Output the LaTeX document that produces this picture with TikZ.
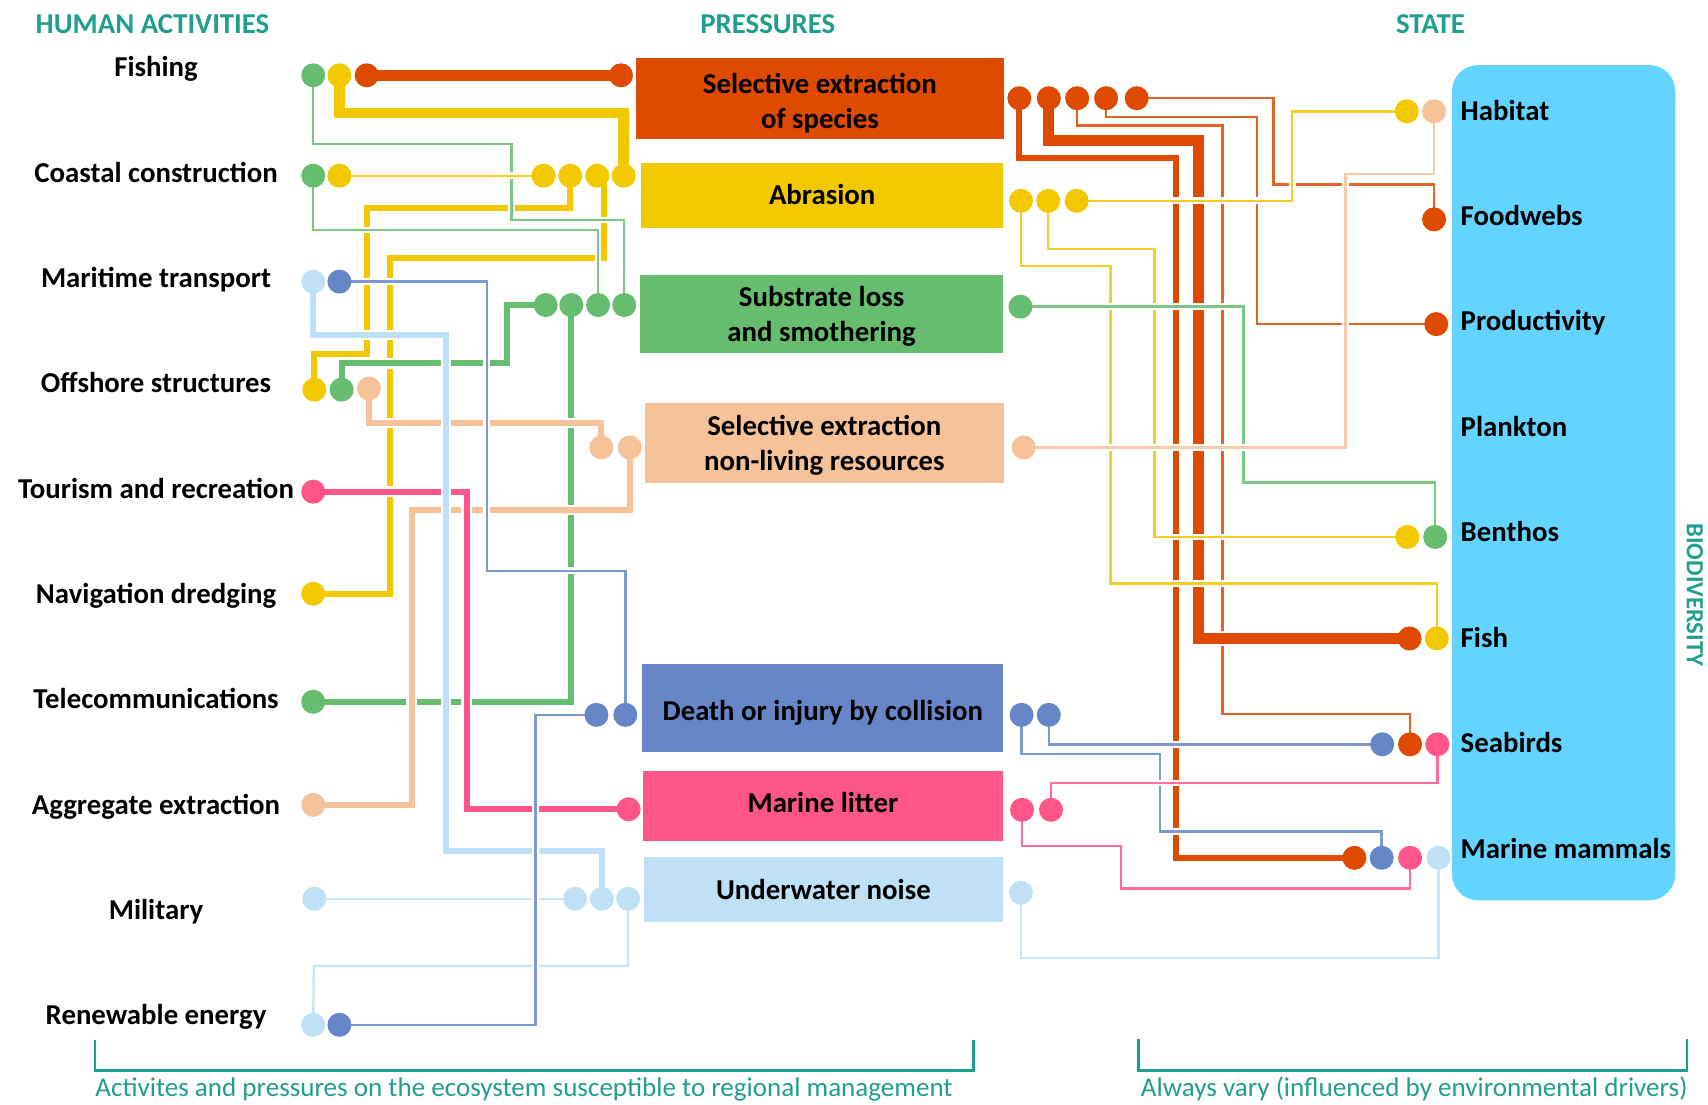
\documentclass[tikz,border=0pt]{standalone}
\usepackage{fontspec}
\setmainfont{Carlito}
\definecolor{cTeal}{RGB}{32,158,142}
\definecolor{cOr}{RGB}{222,74,0}
\definecolor{cYe}{RGB}{242,200,0}
\definecolor{cGr}{RGB}{102,189,112}
\definecolor{cPe}{RGB}{246,194,154}
\definecolor{cBl}{RGB}{103,134,200}
\definecolor{cPk}{RGB}{255,85,136}
\definecolor{cLb}{RGB}{190,225,246}
\definecolor{cSt}{RGB}{98,212,255}
\begin{document}
\begin{tikzpicture}[x=0.5pt,y=-0.5pt,line join=miter,
  lbl/.style={font=\bfseries\fontsize{13.2pt}{16pt}\selectfont, inner sep=0},
  act/.style={lbl, anchor=base},
  stl/.style={lbl, anchor=base west},
  hdr/.style={lbl, text=cTeal, anchor=base},
  foot/.style={font=\fontsize{12.4pt}{15pt}\selectfont, text=cTeal, inner sep=0, anchor=base west},
  pbox/.style={rectangle, inner sep=0},
  ptxt/.style={lbl, align=center},
  dot/.style={circle, inner sep=0, minimum size=11pt, fill=#1},
  lthick/.style={draw=#1, line width=5pt, preaction={draw=white, line width=7pt}},
  lmed/.style={draw=#1, line width=2.75pt, preaction={draw=white, line width=4.75pt}},
  lthin/.style={draw=#1!85, line width=1.1pt, preaction={draw=white, line width=3.1pt}},
  brk/.style={draw=cTeal, line width=1.1pt}
]
\useasboundingbox (0,0) rectangle (1565,1011.6);

% headers
\node[hdr] (h1) at (139.7,30.5) {HUMAN ACTIVITIES};
\node[hdr] (h2) at (703.5,30.5) {PRESSURES};
\node[hdr] (h3) at (1310.7,30.5) {STATE};

% activity labels
\node[act] (tFish) at (143,70.5) {Fishing};
\node[act] (tCoast) at (143,167) {Coastal construction};
\node[act] (tMar) at (143,263.5) {Maritime transport};
\node[act] (tOff) at (143,360) {Offshore structures};
\node[act] (tTour) at (143,456.5) {Tourism and recreation};
\node[act] (tNav) at (143,553) {Navigation dredging};
\node[act] (tTel) at (143,649.5) {Telecommunications};
\node[act] (tAgg) at (143,746) {Aggregate extraction};
\node[act] (tMil) at (143,842.5) {Military};
\node[act] (tRen) at (143,939) {Renewable energy};

% pressure boxes
\node[pbox, fill=cOr, minimum width=168.3pt, minimum height=37.1pt,
  label={[ptxt, yshift=-2pt]center:Selective extraction\\of species}] (p1) at (751.3,90.6) {};
\node[pbox, fill=cYe, minimum width=165.7pt, minimum height=29.75pt,
  label={[ptxt, yshift=0.5pt]center:Abrasion}] (p2) at (753.3,179.5) {};
\node[pbox, fill=cGr, minimum width=166.25pt, minimum height=35.5pt,
  label={[ptxt, yshift=-1pt]center:Substrate loss\\and smothering}] (p3) at (752.8,287.5) {};
\node[pbox, fill=cPe, minimum width=164.25pt, minimum height=36.9pt,
  label={[ptxt, yshift=-1pt]center:Selective extraction\\non-living resources}] (p4) at (755.3,405.9) {};
\node[pbox, fill=cBl, minimum width=165.35pt, minimum height=40pt,
  label={[ptxt, yshift=-2pt]center:Death or injury by collision}] (p5) at (753.9,648.7) {};
\node[pbox, fill=cPk, minimum width=165pt, minimum height=32.5pt,
  label={[ptxt, yshift=1.5pt]center:Marine litter}] (p6) at (754,738.5) {};
\node[pbox, fill=cLb, minimum width=164.5pt, minimum height=29.5pt,
  label={[ptxt]center:Underwater noise}] (p7) at (754.5,815) {};

% state box
\node[rectangle, rounded corners=12pt, fill=cSt, inner sep=0, minimum width=102.3pt, minimum height=382.7pt] (state) at (1432.7,442.3) {};
\node[stl] (sHab) at (1338,110) {Habitat};
\node[stl] (sFood) at (1338,206.6) {Foodwebs};
\node[stl] (sProd) at (1338,303.2) {Productivity};
\node[stl] (sPlank) at (1338,399.8) {Plankton};
\node[stl] (sBen) at (1338,496.4) {Benthos};
\node[stl] (sFish) at (1338,593) {Fish};
\node[stl] (sSea) at (1338,689.6) {Seabirds};
\node[stl] (sMam) at (1338,786.2) {Marine mammals};
\node[lbl, text=cTeal, font=\bfseries\fontsize{11.3pt}{13pt}\selectfont, rotate=-90] (bio) at (1553,545) {BIODIVERSITY};

% dot coordinates (dots drawn last)
\path
 (287,69) coordinate (fG) (311,69) coordinate (fY) (336,69) coordinate (fO)
 (287,161) coordinate (cG) (311,161) coordinate (cY)
 (287,258) coordinate (mL) (311,258) coordinate (mB)
 (288,357) coordinate (oY) (313,357) coordinate (oG) (338,356) coordinate (oP)
 (287,450.5) coordinate (tP)
 (287,544) coordinate (nY)
 (287,643) coordinate (teG)
 (287,737.5) coordinate (aP)
 (288,823.5) coordinate (miL)
 (287,939) coordinate (rL) (311,939) coordinate (rB)
 (569,69) coordinate (s1L)
 (498,161) coordinate (a1) (522.5,161) coordinate (a2) (547.3,161) coordinate (a3) (571.5,161) coordinate (a4)
 (500,279.5) coordinate (u1) (523.5,279.5) coordinate (u2) (548,279.5) coordinate (u3) (572,279.5) coordinate (u4)
 (551,410) coordinate (n1) (577,410) coordinate (n2)
 (546.5,655) coordinate (d1) (573,655) coordinate (d2)
 (576,741.5) coordinate (l1)
 (527,823.5) coordinate (z1) (551.5,823.5) coordinate (z2) (575.5,823.5) coordinate (z3)
 (934,90) coordinate (sr1) (961,90) coordinate (sr2) (987,90) coordinate (sr3) (1013.5,90) coordinate (sr4) (1041.5,90) coordinate (sr5)
 (935.5,184) coordinate (ar1) (960.5,184) coordinate (ar2) (986.5,184) coordinate (ar3)
 (935,281) coordinate (ur1)
 (938,410) coordinate (nr1)
 (936,655) coordinate (dr1) (961,655) coordinate (dr2)
 (936.5,742) coordinate (lr1) (963,742) coordinate (lr2)
 (935.5,818) coordinate (zr1)
 (1289,102) coordinate (hY) (1314,102) coordinate (hP)
 (1314,201) coordinate (fwO)
 (1316,297) coordinate (prO)
 (1289.5,492) coordinate (bY) (1315,492) coordinate (bG)
 (1291.5,585) coordinate (fiO) (1316.5,585) coordinate (fiY)
 (1266.5,682) coordinate (sbB) (1292,682) coordinate (sbO) (1317,682) coordinate (sbP)
 (1241,786) coordinate (mmO) (1266,786) coordinate (mmB) (1292,786) coordinate (mmP) (1318,786) coordinate (mmL);

% ---------- left connectors ----------
\draw[lthick=cYe] (fY) -- (311,103.5) -- (571.5,103.5) -- (a4);
\draw[lmed=cYe] (a2) -- (522.5,191) -- (336,191) -- (336,324) -- (288,324) -- (oY);
\draw[lmed=cYe] (a3) -- (553.7,161) -- (553.7,236) -- (357.3,236) -- (357.3,544) -- (nY);
\draw[lmed=cGr] (oG) -- (313,333) -- (464.5,333) -- (464.5,279.5) -- (u1);
\draw[lmed=cGr] (u2) -- (523.5,643) -- (teG);
\draw[lmed=cPe] (oP) -- (338,387.3) -- (551,387.3) -- (n1);
\draw[lmed=cPe] (n2) -- (577,467.5) -- (377.2,467.5) -- (377.2,737.5) -- (aP);
\draw[lmed=cPk] (tP) -- (427.5,450.5) -- (427.5,741.5) -- (l1);
\draw[lmed=cLb] (mL) -- (287,307) -- (408.7,307) -- (408.7,779.5) -- (551.5,779.5) -- (z2);
\draw[lthin=cGr] (fG) -- (287,132) -- (468.5,132) -- (468.5,201.5) -- (572,201.5) -- (u4);
\draw[lthin=cGr] (cG) -- (287,210.7) -- (548,210.7) -- (u3);
\draw[lthin=cYe] (cY) -- (a1);
\draw[lthin=cBl] (mB) -- (446,258) -- (446,523) -- (573,523) -- (d2);
\draw[lthin=cLb] (miL) -- (z1);
\draw[lthin=cLb] (z3) -- (575.5,885) -- (287.5,885) -- (rL);
\draw[lthin=cBl] (d1) -- (490.5,655) -- (490.5,939) -- (rB);
\draw[lthick=cOr] (fO) -- (s1L);

% ---------- right connectors ----------
\draw[lthin=cOr] (sr5) -- (1167,90) -- (1167,169) -- (1314,169) -- (fwO);
\draw[lthin=cOr] (sr4) -- (1013.5,107) -- (1152,107) -- (1152,297) -- (prO);
\draw[lthin=cOr] (sr3) -- (987,115) -- (1120,115) -- (1120,654) -- (1292,654) -- (sbO);
\draw[lthick=cOr] (sr2) -- (961,129) -- (1098,129) -- (1098,585) -- (fiO);
\draw[lmed=cOr] (sr1) -- (934,144.5) -- (1077.5,144.5) -- (1077.5,786) -- (mmO);
\draw[lthin=cYe] (ar3) -- (1184,184) -- (1184,102) -- (hY);
\draw[lthin=cYe] (ar2) -- (960.5,228) -- (1058,228) -- (1058,492) -- (bY);
\draw[lthin=cYe] (ar1) -- (935.5,243.5) -- (1017.5,243.5) -- (1017.5,534.5) -- (1316.5,534.5) -- (fiY);
\draw[lthin=cGr] (ur1) -- (1139.4,281) -- (1139.4,442) -- (1315,442) -- (bG);
\draw[lthin=cPe] (nr1) -- (1233,410) -- (1233,159.5) -- (1314,159.5) -- (hP);
\draw[lthin=cBl] (dr2) -- (961,682) -- (sbB);
\draw[lthin=cBl] (dr1) -- (936,691) -- (1063,691) -- (1063,762) -- (1266,762) -- (mmB);
\draw[lthin=cPk] (lr2) -- (963,717.5) -- (1317,717.5) -- (sbP);
\draw[lthin=cPk] (lr1) -- (936.5,775) -- (1027,775) -- (1027,814) -- (1292,814) -- (mmP);
\draw[lthin=cLb] (zr1) -- (935.5,878) -- (1318,878) -- (mmL);

% ---------- dots ----------
\foreach \n/\c in {fG/cGr,fY/cYe,fO/cOr,cG/cGr,cY/cYe,mL/cLb,mB/cBl,oY/cYe,oG/cGr,oP/cPe,tP/cPk,nY/cYe,teG/cGr,aP/cPe,miL/cLb,rL/cLb,rB/cBl,
  s1L/cOr,a1/cYe,a2/cYe,a3/cYe,a4/cYe,u1/cGr,u2/cGr,u3/cGr,u4/cGr,n1/cPe,n2/cPe,d1/cBl,d2/cBl,l1/cPk,z1/cLb,z2/cLb,z3/cLb,
  sr1/cOr,sr2/cOr,sr3/cOr,sr4/cOr,sr5/cOr,ar1/cYe,ar2/cYe,ar3/cYe,ur1/cGr,nr1/cPe,dr1/cBl,dr2/cBl,lr1/cPk,lr2/cPk,zr1/cLb,
  hY/cYe,hP/cPe,fwO/cOr,prO/cOr,bY/cYe,bG/cGr,fiO/cOr,fiY/cYe,sbB/cBl,sbO/cOr,sbP/cPk,mmO/cOr,mmB/cBl,mmP/cPk,mmL/cLb}
  {\node[dot=\c] (dot-\n) at (\n) {};}

% ---------- brackets and footers ----------
\draw[brk] (87,953) -- (87,981) -- (892,981) -- (892,953);
\draw[brk] (1043,952) -- (1043,981) -- (1546,981) -- (1546,952);
\node[foot] (f1) at (87,1005) {Activites and pressures on the ecosystem susceptible to regional management};
\node[foot] (f2) at (1045,1005) {Always vary (influenced by environmental drivers)};
\end{tikzpicture}
\end{document}
